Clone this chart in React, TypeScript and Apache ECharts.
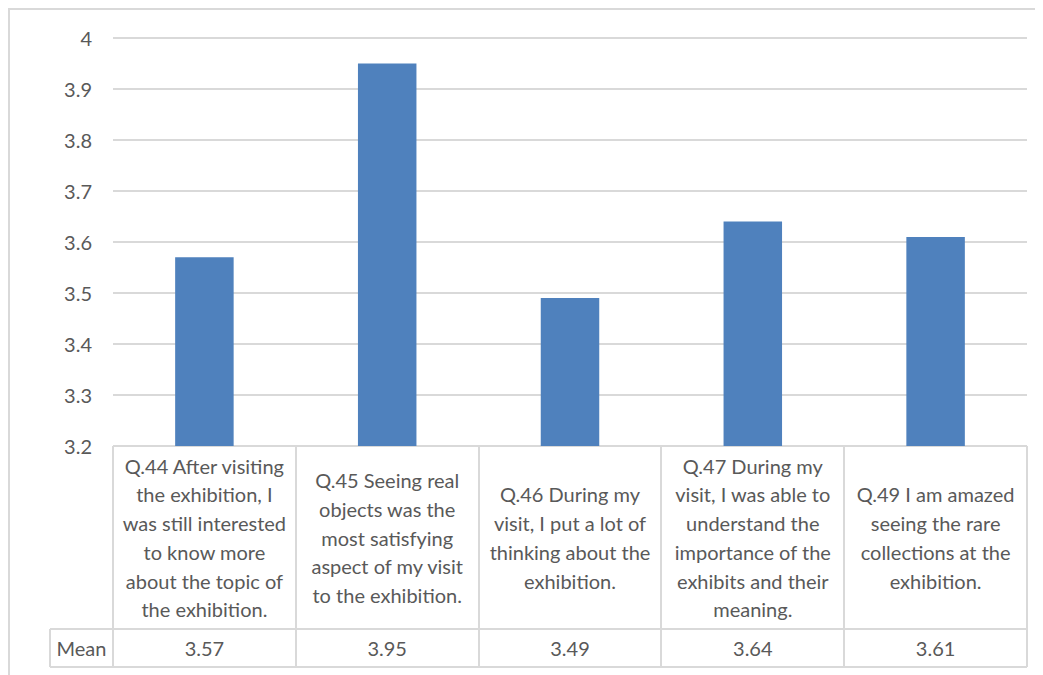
import React, { useEffect, useRef } from "react";
import * as echarts from "echarts";

// Survey items (wrapped as they appear in the data table) and their mean scores
const categories = [
  "Q.44 After visiting\nthe exhibition, I\nwas still interested\nto know more\nabout the topic of\nthe exhibition.",
  "Q.45 Seeing real\nobjects was the\nmost satisfying\naspect of my visit\nto the exhibition.",
  "Q.46 During my\nvisit, I put a lot of\nthinking about the\nexhibition.",
  "Q.47 During my\nvisit, I was able to\nunderstand the\nimportance of the\nexhibits and their\nmeaning.",
  "Q.49 I am amazed\nseeing the rare\ncollections at the\nexhibition.",
];
const meanValues = [3.57, 3.95, 3.49, 3.64, 3.61];
const seriesName = "Mean";
const yMin = 3.2;
const yMax = 4;
const yStep = 0.1;

const W = 1035;
const H = 667;
const TEXT = "#595959";
const LINE = "#D9D9D9";
const FONT = "Lato, 'Open Sans', sans-serif";

export default function App() {
  const ref = useRef<HTMLDivElement>(null);

  useEffect(() => {
    if (!ref.current) return;
    const chart = echarts.init(ref.current, undefined, { renderer: "svg" });

    const gridLeft = 105;
    const gridRight = 1019;
    const gridTop = 30;
    const gridBottom = 438;
    const labelRowBottom = 621;
    const tableBottom = 659;
    const meanLeft = 42;
    const colW = (gridRight - gridLeft) / categories.length;

    const lineStyle = { stroke: LINE, lineWidth: 2 };
    const graphics: any[] = [];
    // chart frame (top and left edges)
    graphics.push({ type: "line", shape: { x1: 0, y1: 1, x2: W, y2: 1 }, style: lineStyle });
    graphics.push({ type: "line", shape: { x1: 1, y1: 0, x2: 1, y2: H }, style: lineStyle });
    // data table rules
    graphics.push({ type: "line", shape: { x1: gridLeft, y1: gridBottom, x2: gridRight, y2: gridBottom }, style: lineStyle });
    graphics.push({ type: "line", shape: { x1: meanLeft, y1: labelRowBottom, x2: gridRight, y2: labelRowBottom }, style: lineStyle });
    graphics.push({ type: "line", shape: { x1: meanLeft, y1: tableBottom, x2: gridRight, y2: tableBottom }, style: lineStyle });
    graphics.push({ type: "line", shape: { x1: meanLeft, y1: labelRowBottom, x2: meanLeft, y2: tableBottom }, style: lineStyle });
    for (let i = 0; i <= categories.length; i++) {
      const x = Math.round(gridLeft + i * colW);
      graphics.push({ type: "line", shape: { x1: x, y1: gridBottom, x2: x, y2: tableBottom }, style: lineStyle });
    }
    graphics.push({
      type: "text",
      x: (meanLeft + gridLeft) / 2,
      y: (labelRowBottom + tableBottom) / 2,
      style: {
        text: seriesName,
        fill: TEXT,
        font: `20px ${FONT}`,
        align: "center",
        verticalAlign: "middle",
      },
    });

    chart.setOption({
      animation: false,
      grid: {
        left: gridLeft,
        right: W - gridRight,
        top: gridTop,
        bottom: H - gridBottom,
        containLabel: false,
      },
      xAxis: [
        {
          type: "category",
          data: categories,
          axisLine: { show: false },
          axisTick: { show: false },
          axisLabel: {
            color: TEXT,
            fontFamily: FONT,
            fontSize: 20,
            lineHeight: 28.7,
            margin: 91.5,
            verticalAlign: "middle",
            align: "center",
            interval: 0,
          },
        },
        {
          type: "category",
          position: "bottom",
          data: meanValues.map((v) => v.toFixed(2)),
          axisLine: { show: false },
          axisTick: { show: false },
          axisLabel: {
            color: TEXT,
            fontFamily: FONT,
            fontSize: 20,
            margin: 202,
            verticalAlign: "middle",
            interval: 0,
          },
        },
      ],
      yAxis: {
        type: "value",
        min: yMin,
        max: yMax,
        interval: yStep,
        axisLine: { show: false },
        axisTick: { show: false },
        axisLabel: {
          color: TEXT,
          fontFamily: FONT,
          fontSize: 20,
          margin: 21,
          formatter: (v: number) => String(Math.round(v * 10) / 10),
        },
        splitLine: { lineStyle: { color: LINE, width: 2 } },
      },
      series: [
        {
          name: seriesName,
          type: "bar",
          data: meanValues,
          barWidth: "32%",
          itemStyle: { color: "#4F81BD" },
        },
      ],
      graphic: graphics,
    });

    return () => chart.dispose();
  }, []);

  return <div ref={ref} style={{ width: W, height: H }} />;
}
